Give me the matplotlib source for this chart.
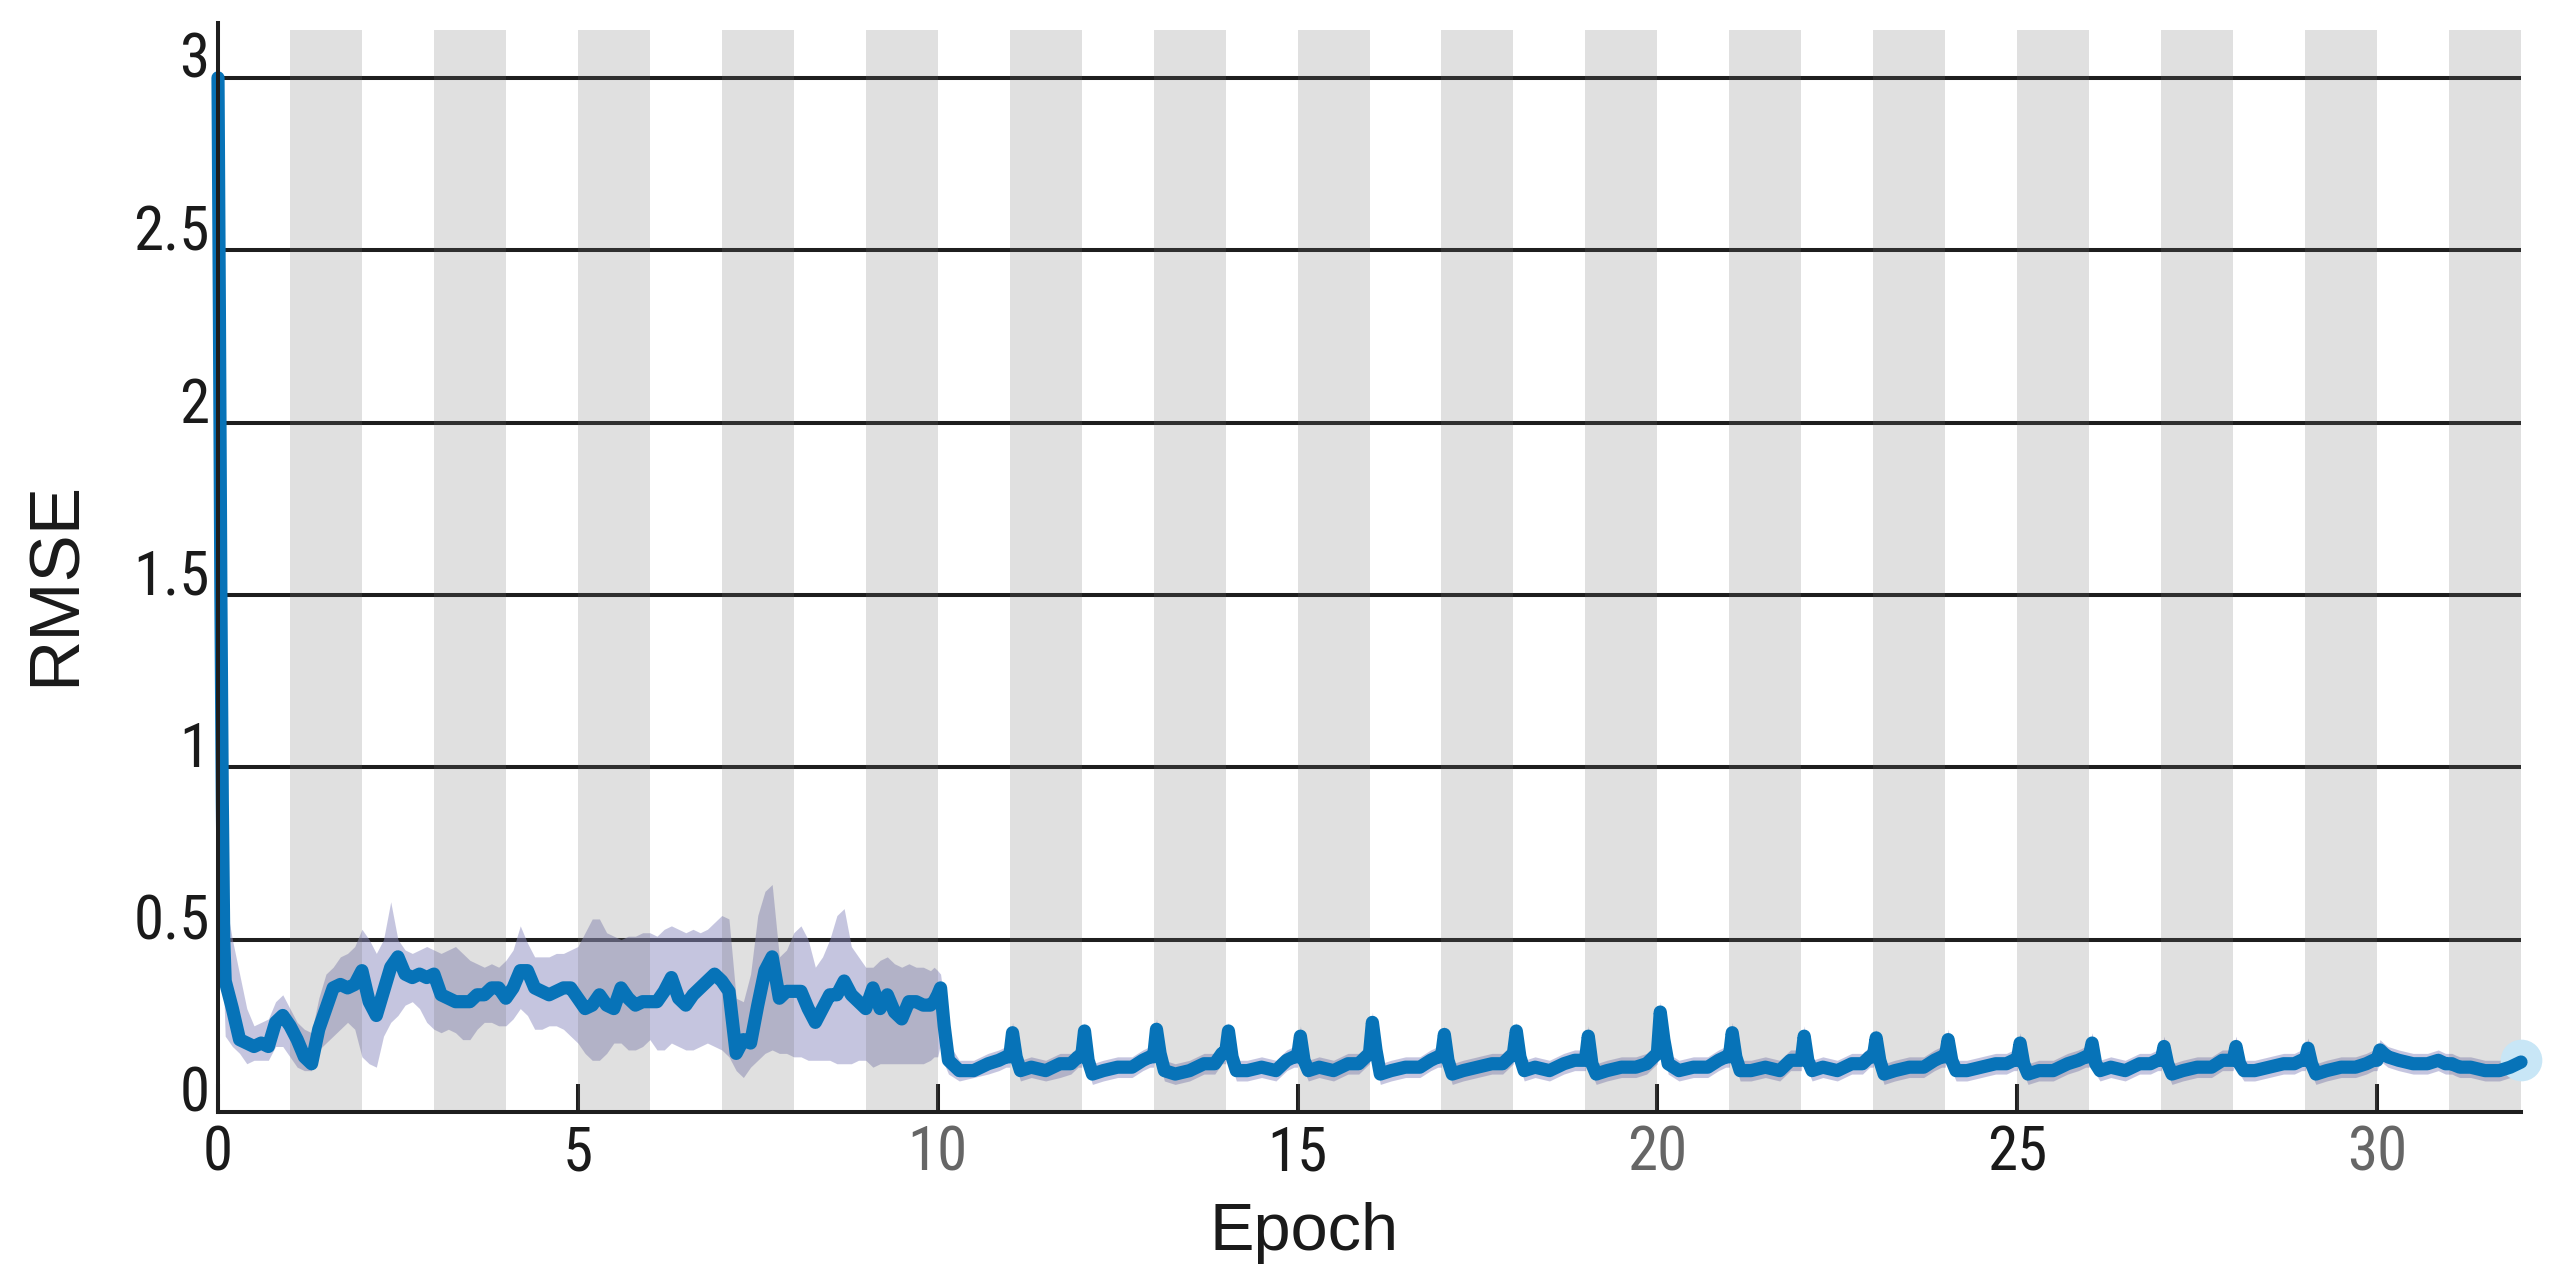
import numpy as np
import matplotlib
matplotlib.use("Agg")
import matplotlib.pyplot as plt
from matplotlib import font_manager as fm
from matplotlib.font_manager import FontProperties

# ---------------- data ----------------
# region A: epochs 0 - 10 (sample positions in epochs)
epoch_a = [0.0, 0.02, 0.04, 0.06, 0.08] + [round(0.1 * i, 2) for i in range(1, 100)] + [9.95]
smooth_a = [3.00, 2.30, 1.50, 0.90, 0.50,
            0.38, 0.30, 0.21, 0.20, 0.19, 0.20, 0.19, 0.26, 0.28, 0.25,
            0.21, 0.16, 0.14, 0.24, 0.30, 0.36, 0.37, 0.36, 0.37, 0.41,
            0.32, 0.28, 0.35, 0.42, 0.45, 0.40, 0.39, 0.40, 0.39, 0.40,
            0.34, 0.33, 0.32, 0.32, 0.32, 0.34, 0.34, 0.36, 0.36, 0.33,
            0.36, 0.41, 0.41, 0.36, 0.35, 0.34, 0.35, 0.36, 0.36, 0.33,
            0.30, 0.31, 0.34, 0.31, 0.30, 0.36, 0.33, 0.31, 0.32, 0.32,
            0.32, 0.35, 0.39, 0.33, 0.31, 0.34, 0.36, 0.38, 0.40, 0.38,
            0.35, 0.17, 0.21, 0.20, 0.31, 0.41, 0.45, 0.33, 0.35, 0.35,
            0.35, 0.30, 0.26, 0.30, 0.34, 0.34, 0.38, 0.34, 0.32, 0.30,
            0.36, 0.30, 0.34, 0.29, 0.27, 0.32, 0.32, 0.31, 0.31,
            0.32]
raw_lo_a = [2.90, 1.70, 1.00, 0.55, 0.35,
            0.22, 0.19, 0.17, 0.14, 0.15, 0.15, 0.15, 0.19, 0.19, 0.16,
            0.13, 0.12, 0.12, 0.18, 0.20, 0.22, 0.24, 0.26, 0.24, 0.16,
            0.14, 0.13, 0.22, 0.26, 0.28, 0.31, 0.32, 0.30, 0.26, 0.24,
            0.23, 0.24, 0.23, 0.21, 0.21, 0.24, 0.26, 0.26, 0.25, 0.25,
            0.27, 0.30, 0.28, 0.24, 0.24, 0.25, 0.25, 0.24, 0.22, 0.20,
            0.17, 0.15, 0.15, 0.17, 0.20, 0.20, 0.18, 0.18, 0.19, 0.21,
            0.18, 0.18, 0.20, 0.19, 0.18, 0.18, 0.19, 0.20, 0.19, 0.18,
            0.16, 0.12, 0.10, 0.13, 0.15, 0.17, 0.18, 0.17, 0.17, 0.16,
            0.16, 0.15, 0.15, 0.15, 0.15, 0.14, 0.14, 0.14, 0.15, 0.15,
            0.13, 0.14, 0.14, 0.14, 0.14, 0.14, 0.14, 0.14, 0.15,
            0.16]
raw_hi_a = [3.00, 2.60, 1.80, 1.10, 0.70,
            0.62, 0.50, 0.40, 0.30, 0.25, 0.26, 0.27, 0.32, 0.34, 0.30,
            0.26, 0.24, 0.23, 0.33, 0.40, 0.42, 0.45, 0.46, 0.48, 0.53,
            0.50, 0.46, 0.50, 0.61, 0.50, 0.47, 0.46, 0.47, 0.48, 0.47,
            0.46, 0.47, 0.48, 0.46, 0.44, 0.43, 0.42, 0.43, 0.42, 0.44,
            0.47, 0.54, 0.49, 0.45, 0.45, 0.45, 0.46, 0.46, 0.47, 0.48,
            0.52, 0.56, 0.56, 0.52, 0.51, 0.50, 0.51, 0.51, 0.52, 0.52,
            0.51, 0.53, 0.54, 0.53, 0.52, 0.53, 0.52, 0.53, 0.55, 0.57,
            0.56, 0.33, 0.32, 0.40, 0.57, 0.64, 0.66, 0.45, 0.47, 0.52,
            0.54, 0.50, 0.42, 0.45, 0.50, 0.57, 0.59, 0.48, 0.45, 0.42,
            0.42, 0.44, 0.45, 0.43, 0.42, 0.43, 0.42, 0.42, 0.41,
            0.42]

# region B: epochs 10 - 32, sampled at fixed offsets inside each epoch
epochs_b = list(range(10, 32))
offsets_b = [0.0, 0.04, 0.09, 0.15, 0.3, 0.5, 0.7, 0.85, 0.95]
smooth_b = [
    0.34, 0.36, 0.25, 0.15, 0.12, 0.12, 0.14, 0.15, 0.16,   # 10
    0.16, 0.23, 0.16, 0.12, 0.13, 0.12, 0.14, 0.14, 0.16,   # 11
    0.16, 0.235, 0.15, 0.11, 0.12, 0.13, 0.13, 0.15, 0.16,  # 12
    0.16, 0.24, 0.17, 0.12, 0.11, 0.12, 0.14, 0.14, 0.17,   # 13
    0.17, 0.235, 0.16, 0.12, 0.12, 0.13, 0.12, 0.15, 0.16,  # 14
    0.16, 0.22, 0.15, 0.12, 0.13, 0.12, 0.14, 0.14, 0.16,   # 15
    0.17, 0.26, 0.18, 0.11, 0.12, 0.13, 0.13, 0.15, 0.16,   # 16
    0.16, 0.225, 0.15, 0.11, 0.12, 0.13, 0.14, 0.14, 0.16,  # 17
    0.17, 0.235, 0.16, 0.12, 0.13, 0.12, 0.14, 0.15, 0.15,  # 18
    0.15, 0.22, 0.14, 0.11, 0.12, 0.13, 0.13, 0.14, 0.16,   # 19
    0.17, 0.29, 0.21, 0.14, 0.12, 0.13, 0.13, 0.15, 0.16,   # 20
    0.16, 0.23, 0.16, 0.12, 0.12, 0.13, 0.12, 0.15, 0.15,   # 21
    0.15, 0.22, 0.15, 0.12, 0.13, 0.12, 0.14, 0.14, 0.16,   # 22
    0.16, 0.215, 0.15, 0.11, 0.12, 0.13, 0.13, 0.15, 0.16,  # 23
    0.16, 0.21, 0.15, 0.12, 0.12, 0.13, 0.14, 0.14, 0.15,   # 24
    0.15, 0.20, 0.14, 0.11, 0.12, 0.12, 0.14, 0.15, 0.16,   # 25
    0.16, 0.20, 0.14, 0.12, 0.13, 0.12, 0.14, 0.14, 0.15,   # 26
    0.15, 0.19, 0.14, 0.11, 0.12, 0.13, 0.13, 0.15, 0.15,   # 27
    0.15, 0.19, 0.14, 0.12, 0.12, 0.13, 0.14, 0.14, 0.15,   # 28
    0.15, 0.185, 0.14, 0.11, 0.12, 0.13, 0.13, 0.14, 0.15,  # 29
    0.15, 0.18, 0.17, 0.16, 0.15, 0.14, 0.14, 0.15, 0.14,   # 30
    0.14, 0.14, 0.135, 0.13, 0.13, 0.12, 0.12, 0.13, 0.14,  # 31
]
raw_lo_b = [
    0.16, 0.20, 0.14, 0.11, 0.09, 0.10, 0.11, 0.12, 0.13,
    0.13, 0.20, 0.13, 0.09, 0.10, 0.09, 0.10, 0.11, 0.13,
    0.13, 0.20, 0.12, 0.08, 0.09, 0.10, 0.10, 0.12, 0.13,
    0.13, 0.21, 0.14, 0.09, 0.08, 0.09, 0.11, 0.11, 0.14,
    0.14, 0.20, 0.13, 0.09, 0.09, 0.10, 0.09, 0.12, 0.13,
    0.13, 0.19, 0.12, 0.09, 0.10, 0.09, 0.11, 0.11, 0.13,
    0.14, 0.23, 0.15, 0.08, 0.09, 0.10, 0.10, 0.12, 0.13,
    0.13, 0.19, 0.12, 0.08, 0.09, 0.10, 0.11, 0.11, 0.13,
    0.14, 0.20, 0.13, 0.09, 0.10, 0.09, 0.11, 0.12, 0.12,
    0.12, 0.19, 0.11, 0.08, 0.09, 0.10, 0.10, 0.11, 0.13,
    0.14, 0.26, 0.18, 0.11, 0.09, 0.10, 0.10, 0.12, 0.13,
    0.13, 0.20, 0.13, 0.09, 0.09, 0.10, 0.09, 0.12, 0.12,
    0.12, 0.19, 0.12, 0.09, 0.10, 0.09, 0.11, 0.11, 0.13,
    0.13, 0.18, 0.12, 0.08, 0.09, 0.10, 0.10, 0.12, 0.13,
    0.13, 0.18, 0.12, 0.09, 0.09, 0.10, 0.11, 0.11, 0.12,
    0.12, 0.17, 0.11, 0.08, 0.09, 0.09, 0.11, 0.12, 0.13,
    0.13, 0.17, 0.11, 0.09, 0.10, 0.09, 0.11, 0.11, 0.12,
    0.12, 0.16, 0.11, 0.08, 0.09, 0.10, 0.10, 0.12, 0.12,
    0.12, 0.16, 0.11, 0.09, 0.09, 0.10, 0.11, 0.11, 0.12,
    0.12, 0.155, 0.11, 0.08, 0.09, 0.10, 0.10, 0.11, 0.12,
    0.12, 0.15, 0.14, 0.13, 0.12, 0.11, 0.11, 0.12, 0.11,
    0.11, 0.11, 0.105, 0.10, 0.10, 0.09, 0.09, 0.10, 0.11,
]
raw_hi_b = [
    0.41, 0.40, 0.32, 0.20, 0.15, 0.15, 0.17, 0.18, 0.19,
    0.19, 0.26, 0.19, 0.15, 0.16, 0.15, 0.17, 0.17, 0.19,
    0.19, 0.26, 0.18, 0.14, 0.15, 0.16, 0.16, 0.18, 0.19,
    0.19, 0.27, 0.20, 0.15, 0.14, 0.15, 0.17, 0.17, 0.20,
    0.20, 0.26, 0.19, 0.15, 0.15, 0.16, 0.15, 0.18, 0.19,
    0.19, 0.25, 0.18, 0.15, 0.16, 0.15, 0.17, 0.17, 0.19,
    0.20, 0.29, 0.21, 0.14, 0.15, 0.16, 0.16, 0.18, 0.19,
    0.19, 0.25, 0.18, 0.14, 0.15, 0.16, 0.17, 0.17, 0.19,
    0.20, 0.26, 0.19, 0.15, 0.16, 0.15, 0.17, 0.18, 0.18,
    0.18, 0.25, 0.17, 0.14, 0.15, 0.16, 0.16, 0.17, 0.19,
    0.20, 0.32, 0.24, 0.17, 0.15, 0.16, 0.16, 0.18, 0.19,
    0.19, 0.26, 0.19, 0.15, 0.15, 0.16, 0.15, 0.18, 0.18,
    0.18, 0.25, 0.18, 0.15, 0.16, 0.15, 0.17, 0.17, 0.19,
    0.19, 0.24, 0.18, 0.14, 0.15, 0.16, 0.16, 0.18, 0.19,
    0.19, 0.24, 0.18, 0.15, 0.15, 0.16, 0.17, 0.17, 0.18,
    0.18, 0.23, 0.17, 0.14, 0.15, 0.15, 0.17, 0.18, 0.19,
    0.19, 0.23, 0.17, 0.15, 0.16, 0.15, 0.17, 0.17, 0.18,
    0.18, 0.22, 0.17, 0.14, 0.15, 0.16, 0.16, 0.18, 0.18,
    0.18, 0.22, 0.17, 0.15, 0.15, 0.16, 0.17, 0.17, 0.18,
    0.18, 0.215, 0.17, 0.14, 0.15, 0.16, 0.16, 0.17, 0.18,
    0.18, 0.21, 0.20, 0.19, 0.18, 0.17, 0.17, 0.18, 0.17,
    0.17, 0.17, 0.165, 0.16, 0.16, 0.15, 0.15, 0.16, 0.17,
]
final_epoch = 32.0
final_smooth = 0.145
final_raw_lo = 0.115
final_raw_hi = 0.175
final_marker_value = 0.15

x_ticks = [0, 5, 10, 15, 20, 25, 30]
x_tick_labels = ["0", "5", "10", "15", "20", "25", "30"]
x_tick_colors = ["#1a1a1a", "#1a1a1a", "#666666", "#1a1a1a", "#666666", "#1a1a1a", "#666666"]
y_ticks = [0, 0.5, 1, 1.5, 2, 2.5, 3]
y_tick_labels = ["0", "0.5", "1", "1.5", "2", "2.5", "3"]
shaded_epochs = list(range(1, 32, 2))   # shaded band starts: [1,2], [3,4], ...

# ---------------- assemble ----------------
epoch_b = [e + o for e in epochs_b for o in offsets_b]
x = np.array(epoch_a + epoch_b + [final_epoch])
smooth = np.array(smooth_a + smooth_b + [final_smooth])
raw_lo = np.array(raw_lo_a + raw_lo_b + [final_raw_lo])
raw_hi = np.array(raw_hi_a + raw_hi_b + [final_raw_hi])

# ---------------- fonts ----------------
def find_condensed():
    prefs = ["Liberation Sans Narrow", "Roboto Condensed", "Open Sans Condensed",
             "Noto Sans Condensed", "DejaVu Sans Condensed"]
    entries = fm.fontManager.ttflist
    for p in prefs:
        for f in entries:
            if f.name == p and f.style == "normal" and f.weight in (400, "normal", "regular"):
                return FontProperties(fname=f.fname)
    for f in entries:
        st = str(f.stretch).lower()
        if ("condensed" in st or "narrow" in f.name.lower() or "condensed" in f.name.lower()) \
                and f.style == "normal" and f.weight in (400, "normal", "regular") \
                and "mono" not in f.name.lower() and "serif" not in f.name.lower().replace("sans", ""):
            return FontProperties(fname=f.fname)
    return None

cond = find_condensed()
if cond is not None:
    tick_fp = cond.copy()
    tick_fp.set_size(44)
else:
    tick_fp = FontProperties(family="Liberation Sans", size=41)
label_family = "Liberation Sans"

# ---------------- figure ----------------
W, H, DPI = 2575, 1288, 100
fig = plt.figure(figsize=(W / DPI, H / DPI), dpi=DPI)
ax_left, ax_right = 218 / W, 2521 / W
ax_bottom, ax_top = 1 - 1112 / H, 1 - 23 / H
ax = fig.add_axes([ax_left, ax_bottom, ax_right - ax_left, ax_top - ax_bottom])

ymax = 3.159
ax.set_xlim(0, 32)
ax.set_ylim(0, ymax)

# gridlines (below everything)
for yv in y_ticks[1:]:
    ax.axhline(yv, color="#1e1e1e", lw=2.9, zorder=1)

# raw series (light purple)
ax.fill_between(x, raw_lo, raw_hi, color="#8d8dc1", alpha=0.5, lw=0, zorder=2)

# alternating epoch bands, translucent, above grid and raw data
for s in shaded_epochs:
    ax.axvspan(s, s + 1, ymin=0, ymax=3.139 / ymax, color=(0.44, 0.44, 0.44),
               alpha=0.216, lw=0, zorder=3)

# final point marker
ax.plot([final_epoch], [final_marker_value], "o", ms=30, color="#c8e6f6",
        mec="none", zorder=4, clip_on=False)

# smoothed series
ax.plot(x, smooth, color="#0773b8", lw=9.5, solid_capstyle="round",
        solid_joinstyle="round", zorder=5, clip_on=False)

# spines
for side in ["top", "right"]:
    ax.spines[side].set_visible(False)
for side in ["left", "bottom"]:
    ax.spines[side].set_color("#1e1e1e")
    ax.spines[side].set_linewidth(2.9)
    ax.spines[side].set_zorder(6)

# ticks
ax.set_xticks(x_ticks)
ax.set_xticklabels(x_tick_labels, fontproperties=tick_fp)
ax.tick_params(axis="x", direction="in", length=20, width=2.9, color="#1e1e1e", pad=9)
for lab, c in zip(ax.get_xticklabels(), x_tick_colors):
    lab.set_color(c)

ax.set_yticks(y_ticks)
ax.set_yticklabels(y_tick_labels, fontproperties=tick_fp, color="#1a1a1a")
ax.tick_params(axis="y", length=0, pad=6)
for lab in ax.get_yticklabels():
    lab.set_verticalalignment("baseline")

# axis labels
ax.text(0.4716, -0.1267, "Epoch", transform=ax.transAxes, ha="center", va="baseline",
        fontfamily=label_family, fontsize=48, color="#1a1a1a")
ax.text(-0.0699, 0.4858, "RMSE", transform=ax.transAxes, ha="center", va="center",
        rotation=90, fontfamily=label_family, fontsize=51, color="#1a1a1a")

fig.savefig("out.png", dpi=DPI, facecolor="white")
